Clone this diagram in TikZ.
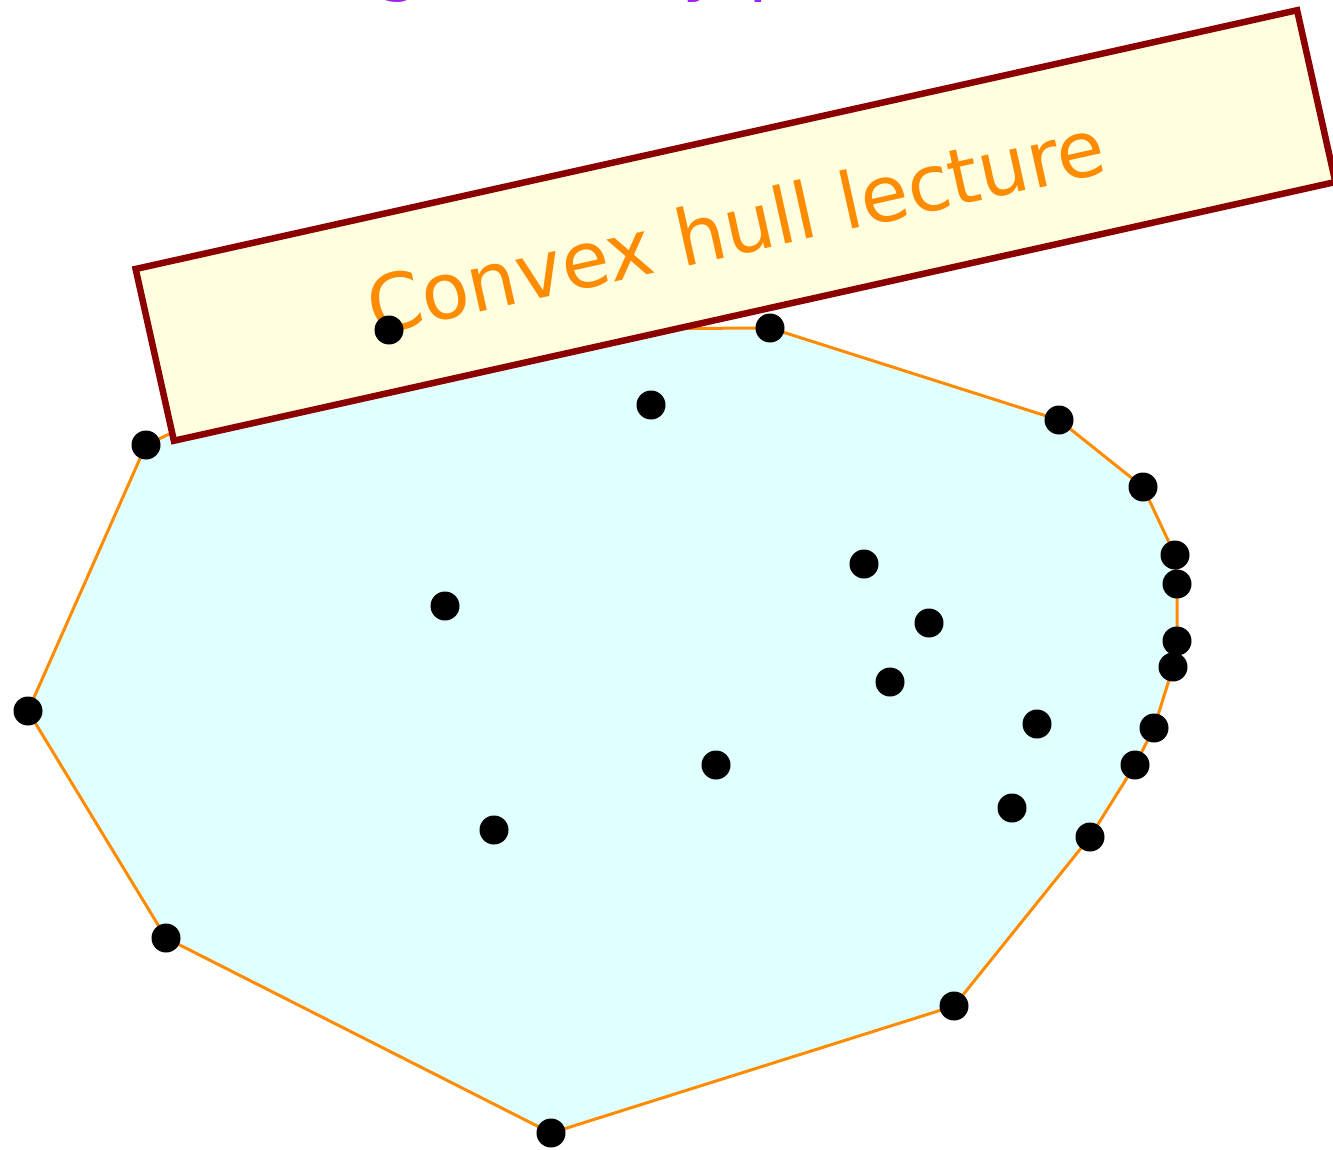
\documentclass[tikz,border=0pt]{standalone}
\usepackage{fontspec}
\setmainfont{DejaVu Sans}
\definecolor{hullfill}{HTML}{E0FFFF}
\definecolor{hullline}{HTML}{FF8C00}
\definecolor{bannerfill}{HTML}{FFFFE0}
\definecolor{bannerline}{HTML}{8B0000}
\definecolor{titlecol}{HTML}{A020F0}
\tikzset{
  pt/.style={circle,fill=black,inner sep=0pt,minimum size=29pt},
  hull/.style={fill=hullfill,draw=hullline,line width=3pt,line join=round},
  banner/.style={fill=bannerfill,draw=bannerline,line width=6.5pt,minimum width=1190pt,minimum height=176pt,inner sep=0pt,rotate=12.56,text=hullline,font=\fontsize{78}{90}\selectfont},
  titletext/.style={text=titlecol,inner sep=0pt,font=\fontsize{72}{80}\selectfont}
}
\begin{document}
\begin{tikzpicture}[x=1pt,y=-1pt]
\useasboundingbox (0,0) rectangle (1333,1150);
% points
\coordinate (h1) at (146,445);
\coordinate (h2) at (389,330);
\coordinate (h3) at (770,328);
\coordinate (h4) at (1059,420);
\coordinate (h5) at (1143,487);
\coordinate (h6) at (1175,555);
\coordinate (h7) at (1177,584);
\coordinate (h8) at (1177,641);
\coordinate (h9) at (1173,667);
\coordinate (h10) at (1154,728);
\coordinate (h11) at (1135,765);
\coordinate (h12) at (1090,837);
\coordinate (h13) at (954,1006);
\coordinate (h14) at (551,1133);
\coordinate (h15) at (166,938);
\coordinate (h16) at (28,711);
\coordinate (i1) at (651,405);
\coordinate (i2) at (445,606);
\coordinate (i3) at (864,564);
\coordinate (i4) at (929,623);
\coordinate (i5) at (890,682);
\coordinate (i6) at (1037,724);
\coordinate (i7) at (716,765);
\coordinate (i8) at (1012,808);
\coordinate (i9) at (494,830);
% hull
\path[hull] (h1)--(h2)--(h3)--(h4)--(h5)--(h6)--(h7)--(h8)--(h9)--(h10)--(h11)--(h12)--(h13)--(h14)--(h15)--(h16)--cycle;
% title
\node[titletext,anchor=base west] (title) at (56,-12) {Discrete geometry primer};
% banner
\node[banner] (banner) at (735.5,225.5) {Convex hull lecture};
% dots
\foreach \p in {h1,h2,h3,h4,h5,h6,h7,h8,h9,h10,h11,h12,h13,h14,h15,h16,i1,i2,i3,i4,i5,i6,i7,i8,i9}
  \node[pt] (d\p) at (\p) {};
\end{tikzpicture}
\end{document}
